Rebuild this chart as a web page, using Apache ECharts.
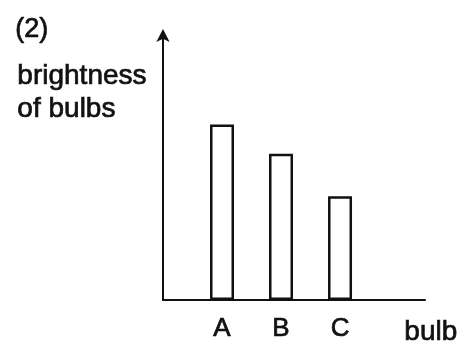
<!DOCTYPE html>
<html>
<head>
<meta charset="utf-8">
<script src="https://cdn.jsdelivr.net/npm/echarts@6/dist/echarts.min.js"></script>
<style>
  html, body { margin: 0; padding: 0; background: #fff; }
  #chart { width: 465px; height: 349px; }
</style>
</head>
<body>
<div id="chart"></div>
<script>
// Bulbs and their relative brightness
const categories = ['A', 'B', 'C'];
const brightness = [6.6, 5.5, 3.9];

const FONT = '"Liberation Sans", Arial, sans-serif';
const INK = '#111';

// Bars sit at x = 1, 2, 3 on a value axis so the axis line can run past the last bar
const barData = categories.map((c, i) => [i + 1, brightness[i]]);

// Regular glyphs with a thin outline for a slightly heavier letter
const textStyle = (text, size) => ({
  text,
  font: size + 'px ' + FONT,
  fill: INK,
  stroke: INK,
  lineWidth: 0.7
});

const chart = echarts.init(document.getElementById('chart'), null, { renderer: 'canvas' });

chart.setOption({
  backgroundColor: '#fff',
  animation: false,
  grid: { left: 163, right: 40, top: 34, bottom: 49 },
  xAxis: {
    type: 'value',
    min: 0,
    max: 4.44,
    interval: 1,
    splitLine: { show: false },
    axisTick: { show: false },
    axisLine: { show: true, lineStyle: { color: INK, width: 2 } },
    axisLabel: {
      show: true,
      showMinLabel: false,
      showMaxLabel: false,
      margin: 16,
      color: INK,
      fontFamily: FONT,
      fontSize: 26,
      textBorderColor: INK,
      textBorderWidth: 0.7,
      formatter: v => categories[Math.round(v) - 1] || ''
    }
  },
  yAxis: {
    type: 'value',
    min: 0,
    max: 10,
    splitLine: { show: false },
    axisTick: { show: false },
    axisLabel: { show: false },
    axisLine: {
      show: true,
      symbol: ['none', 'arrow'],
      symbolSize: [10, 13],
      symbolOffset: [0, 5],
      lineStyle: { color: INK, width: 2 }
    }
  },
  series: [{
    type: 'bar',
    data: barData,
    barWidth: 24,
    itemStyle: { color: '#fff', borderColor: INK, borderWidth: 2.5 }
  }],
  graphic: [
    { type: 'text', left: 15, top: 16, style: textStyle('(2)', 27) },
    { type: 'text', left: 17, top: 62, style: textStyle('brightness', 28) },
    { type: 'text', left: 17, top: 95, style: textStyle('of bulbs', 28) },
    { type: 'text', left: 404, top: 318, style: textStyle('bulb', 28) }
  ]
});
</script>
</body>
</html>
